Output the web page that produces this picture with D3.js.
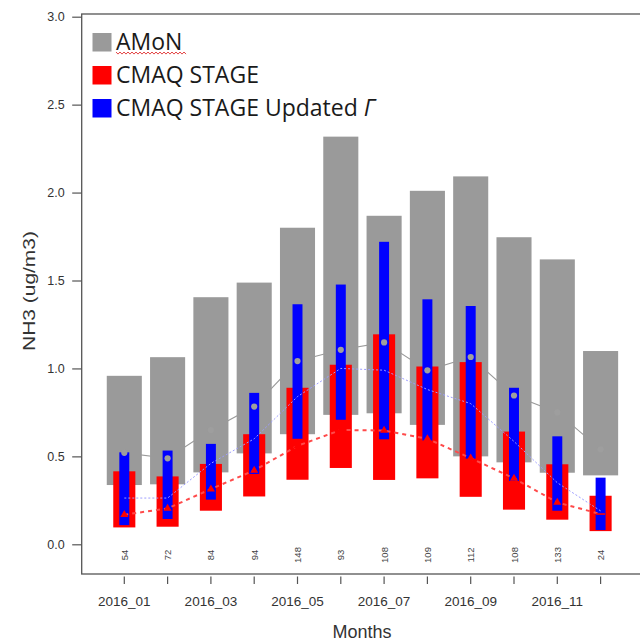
<!DOCTYPE html>
<html>
<head>
<meta charset="utf-8">
<script src="https://cdn.jsdelivr.net/npm/d3@7"></script>
<style>
  html, body { margin: 0; padding: 0; background: #fff; }
  svg { display: block; }
</style>
</head>
<body>
<svg id="chart" width="640" height="642"></svg>
<script>
// Monthly NH3 concentrations, 2016: AMoN observations vs. CMAQ STAGE runs
const months = ["2016_01","2016_02","2016_03","2016_04","2016_05","2016_06",
                "2016_07","2016_08","2016_09","2016_10","2016_11","2016_12"];
const siteCounts = [54, 72, 84, 94, 148, 93, 108, 109, 112, 108, 133, 24];
const yTicks = [0, 0.5, 1.0, 1.5, 2.0, 2.5, 3.0];

// AMoN observed range (low/high) and central value
const amonLow  = [0.337, 0.341, 0.409, 0.517, 0.626, 0.736, 0.745, 0.679, 0.500, 0.466, 0.407, 0.392];
const amonHigh = [0.958, 1.064, 1.405, 1.488, 1.800, 2.318, 1.868, 2.010, 2.092, 1.746, 1.620, 1.099];
const amonMid  = [0.520, 0.489, 0.650, 0.783, 1.042, 1.106, 1.148, 0.989, 1.065, 0.846, 0.750, 0.540];

// CMAQ STAGE range and central value
const stageLow  = [0.096, 0.100, 0.191, 0.272, 0.367, 0.434, 0.366, 0.375, 0.270, 0.197, 0.140, 0.075];
const stageHigh = [0.415, 0.386, 0.457, 0.626, 0.890, 1.021, 1.194, 1.011, 1.036, 0.641, 0.455, 0.276];
const stageMid  = [0.168, 0.204, 0.314, 0.420, 0.560, 0.650, 0.647, 0.600, 0.490, 0.375, 0.238, 0.172];

// CMAQ STAGE with updated Gamma: range and central value
const updLow  = [0.109, 0.144, 0.254, 0.400, 0.600, 0.708, 0.597, 0.590, 0.487, 0.360, 0.191, 0.081];
const updHigh = [0.523, 0.533, 0.571, 0.861, 1.365, 1.477, 1.720, 1.393, 1.355, 0.890, 0.614, 0.379];
const updMid  = [0.263, 0.263, 0.460, 0.600, 0.840, 1.000, 0.990, 0.880, 0.800, 0.585, 0.350, 0.190];

const legendItems = [
  { label: "AMoN", color: "#9a9a9a" },
  { label: "CMAQ STAGE", color: "#ff0000" },
  { label: "CMAQ STAGE Updated ", greek: "Γ", color: "#0000ff" }
];

const svg = d3.select("#chart");
const axisFont = "'Liberation Sans', Arial, Helvetica, sans-serif";
const obsGrey = "#9a9a9a";

const x = d3.scaleBand().domain(months).range([102.65, 622.25]).padding(0);
const y = d3.scaleLinear().domain([0, 3]).range([544.3, 16.7]);
const cx = i => x(months[i]) + x.bandwidth() / 2;
const bw = x.bandwidth();

const idx = d3.range(months.length);
const lineOf = vals => d3.line().x((d, i) => cx(i)).y(d => y(d))(vals);

// observed central line sits underneath the bars
svg.append("path").attr("d", lineOf(amonMid))
  .attr("fill", "none").attr("stroke", obsGrey).attr("stroke-width", 1.1);

// floating range bars
function rangeBars(low, high, frac, color) {
  svg.append("g").selectAll("rect").data(idx).join("rect")
    .attr("x", i => cx(i) - bw * frac / 2)
    .attr("width", bw * frac)
    .attr("y", i => y(high[i]))
    .attr("height", i => y(low[i]) - y(high[i]))
    .attr("fill", color);
}
rangeBars(amonLow, amonHigh, 0.81, obsGrey);
rangeBars(stageLow, stageHigh, 0.51, "#ff0000");
rangeBars(updLow, updHigh, 0.23, "#0000ff");

// model central lines
svg.append("path").attr("d", lineOf(updMid))
  .attr("fill", "none").attr("stroke", "#9d9dff").attr("stroke-width", 1)
  .attr("stroke-dasharray", "2,2");
svg.append("path").attr("d", lineOf(stageMid))
  .attr("fill", "none").attr("stroke", "#ff4a4a").attr("stroke-width", 2)
  .attr("stroke-dasharray", "4,4");

// markers
svg.append("g").selectAll("circle").data(amonMid).join("circle")
  .attr("cx", (d, i) => cx(i)).attr("cy", d => y(d)).attr("r", 3.1)
  .attr("fill", "#9e9e9e");
const tri = d3.symbol().type(d3.symbolTriangle).size(28);
svg.append("g").selectAll("path").data(stageMid).join("path")
  .attr("transform", (d, i) => `translate(${cx(i)},${y(d)})`)
  .attr("d", (d, i) => i === months.length - 1
      ? "M-4.5,-0.8h9v1.6h-9z" : tri())
  .attr("fill", "#ff0000");

// plot frame
svg.append("rect")
  .attr("x", 81.7).attr("y", 14).attr("width", 562).attr("height", 560)
  .attr("fill", "none").attr("stroke", "#555").attr("stroke-width", 1.3);

// y axis
const yAxis = svg.append("g").attr("transform", "translate(81.7,0)")
  .call(d3.axisLeft(y).tickValues(yTicks).tickFormat(d3.format(".1f"))
        .tickSize(9.5).tickPadding(7.5));
yAxis.select(".domain").remove();
yAxis.selectAll("line").attr("stroke", "#555").attr("stroke-width", 1.2);
yAxis.selectAll("text").attr("font-family", axisFont).attr("font-size", 12.5)
  .attr("fill", "#333");

// x axis: every month ticked, odd months labelled
const xAxis = svg.append("g").attr("transform", "translate(0,576.5)")
  .call(d3.axisBottom(x).tickSize(7.5).tickPadding(12.5)
        .tickFormat((d, i) => i % 2 === 0 ? d : ""));
xAxis.select(".domain").remove();
xAxis.selectAll("line").attr("stroke", "#555").attr("stroke-width", 1.2);
xAxis.selectAll("text").attr("font-family", axisFont).attr("font-size", 13.5)
  .attr("fill", "#333");

// number of sites per month
svg.append("g").selectAll("text").data(siteCounts).join("text")
  .attr("transform", (d, i) => `translate(${cx(i)},555) rotate(-90)`)
  .attr("text-anchor", "middle").attr("dominant-baseline", "central")
  .attr("font-family", axisFont).attr("font-size", 9.5).attr("fill", "#444")
  .text(d => d);

// axis titles
svg.append("text").attr("x", 362).attr("y", 638).attr("text-anchor", "middle")
  .attr("font-family", axisFont).attr("font-size", 18).attr("fill", "#333")
  .text("Months");
svg.append("text").attr("transform", "translate(29,291) rotate(-90) scale(1.27,1)")
  .attr("text-anchor", "middle").attr("dominant-baseline", "central")
  .attr("font-family", axisFont).attr("font-size", 16.5).attr("fill", "#333")
  .text("NH3 (ug/m3)");

// legend
const legend = svg.append("g");
const legendFont = "'Open Sans', 'Noto Sans', sans-serif";
legendItems.forEach((item, i) => {
  const top = 33 + i * 33;
  legend.append("rect").attr("x", 92.5).attr("y", top).attr("width", 19).attr("height", 18.5)
    .attr("fill", item.color);
  const t = legend.append("text").attr("x", 116).attr("y", top + 16.5)
    .attr("font-family", legendFont).attr("font-size", 23).attr("fill", "#1a1a1a")
    .text(item.label);
  if (item.greek) t.append("tspan").attr("font-style", "italic").text(item.greek);
});
// wavy proofing underline beneath the first legend label
const wave = d3.range(0, 71, 2).map((v, k) => [116 + v, 52.8 + (k % 2 ? 1.3 : -0.8)]);
legend.append("path").attr("d", d3.line()(wave))
  .attr("fill", "none").attr("stroke", "#e03030").attr("stroke-width", 0.9);
</script>
</body>
</html>
